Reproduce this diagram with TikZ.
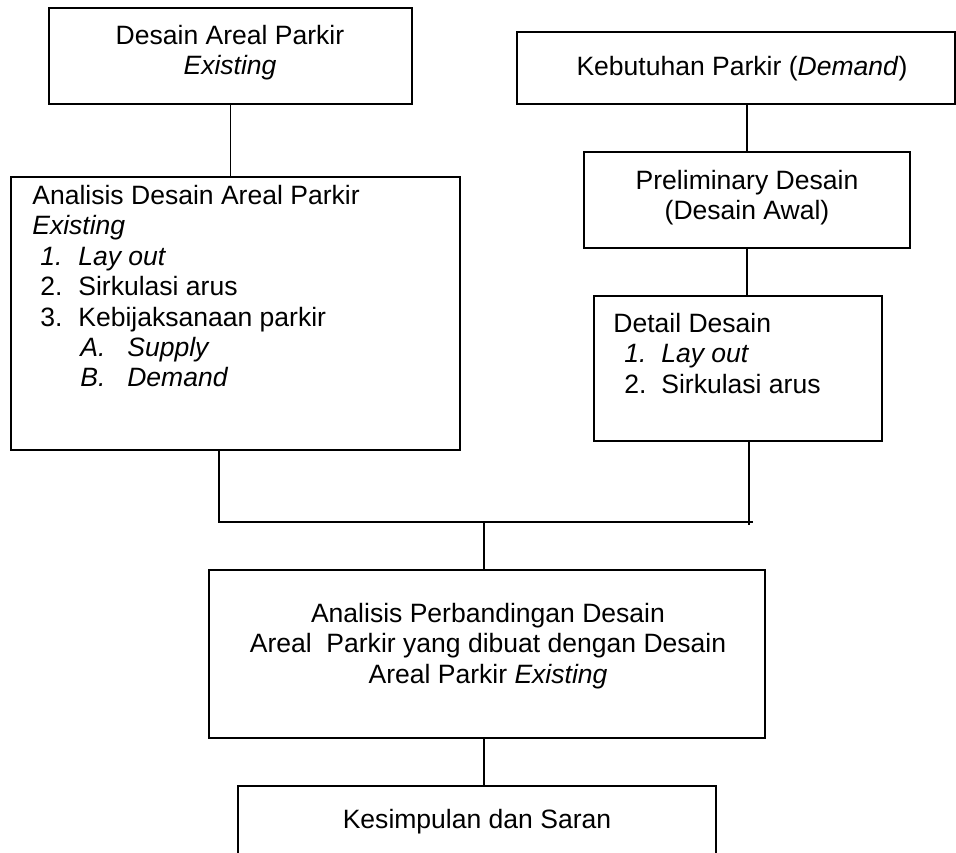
\documentclass[tikz,border=0pt]{standalone}
\usepackage{fontspec}
\setmainfont{Liberation Sans}
\usepackage{tikz}

\newcommand{\listno}[4]{\hspace*{#1}\makebox[#2][l]{#3}#4}

\begin{document}
\begin{tikzpicture}[x=0.02cm, y=-0.02cm,
        box/.style={draw, line width=1.1pt, inner sep=0pt},
        link/.style={line width=1pt},
        txt/.style={inner sep=0pt, font=\fontsize{15.1pt}{17.3pt}\selectfont}]
        \clip (0, 0) rectangle (956, 852);

        \node[box, minimum width=7.26cm, minimum height=1.92cm] (exist) at (230.5, 56) {};
        \node[box, minimum width=8.76cm, minimum height=1.44cm] (demand) at (736, 68) {};
        \node[box, minimum width=8.98cm, minimum height=5.46cm] (anal) at (235.5, 313.5) {};
        \node[box, minimum width=6.52cm, minimum height=1.92cm] (prelim) at (747, 200) {};
        \node[box, minimum width=5.76cm, minimum height=2.9cm] (detail) at (738, 368.5) {};
        \node[box, minimum width=11.12cm, minimum height=3.36cm] (comp) at (487, 654) {};
        \node[box, minimum width=9.56cm, minimum height=2.28cm] (concl) at (477, 843) {};

        \node[txt, anchor=north, align=center] (existtxt) at (230, 25)
            {Desain Areal Parkir\\\textit{Existing}};
        \node[txt, anchor=north] (demandtxt) at (742, 55.7)
            {Kebutuhan Parkir (\textit{Demand})};
        \node[txt, anchor=north west, align=left] (analtxt) at (32, 185)
            {Analisis Desain Areal Parkir\\
             \textit{Existing}\\
             \listno{0.16cm}{0.76cm}{\textit{1.}}{\textit{Lay out}}\\
             \listno{0.16cm}{0.76cm}{2.}{Sirkulasi arus}\\
             \listno{0.16cm}{0.76cm}{3.}{Kebijaksanaan parkir}\\
             \listno{0.96cm}{0.94cm}{\textit{A.}}{\textit{Supply}}\\
             \listno{0.96cm}{0.94cm}{\textit{B.}}{\textit{Demand}}};
        \node[txt, anchor=north, align=center] (prelimtxt) at (747, 170)
            {Preliminary Desain\\(Desain Awal)};
        \node[txt, anchor=north west, align=left] (detailtxt) at (613, 313)
            {Detail Desain\\
             \listno{0.22cm}{0.74cm}{\textit{1.}}{\textit{Lay out}}\\
             \listno{0.22cm}{0.74cm}{2.}{Sirkulasi arus}};
        \node[txt, anchor=north, align=center] (comptxt) at (488, 603)
            {Analisis Perbandingan Desain\\
             Areal\ \ Parkir yang dibuat dengan Desain\\
             Areal Parkir \textit{Existing}};
        \node[txt, anchor=north] (concltxt) at (477, 809) {Kesimpulan dan Saran};

        \coordinate (joinl) at (219, 522);
        \coordinate (joinr) at (749, 522);
        \coordinate (joinm) at (484, 522);
        \coordinate (joinend) at (753, 522);
        \coordinate (tickr) at (749, 525);

        \draw[link] (exist.south) -- (exist.south |- anal.north);
        \draw[link] (prelim.north) -- (prelim.north |- demand.south);
        \draw[link] (prelim.south) -- (prelim.south |- detail.north);
        \draw[link] (anal.south -| joinl) -- (joinl) -- (joinend);
        \draw[link] (detail.south -| joinr) -- (tickr);
        \draw[link] (joinm) -- (joinm |- comp.north);
        \draw[link] (comp.south -| joinm) -- (concl.north -| joinm);
    \end{tikzpicture}
\end{document}
